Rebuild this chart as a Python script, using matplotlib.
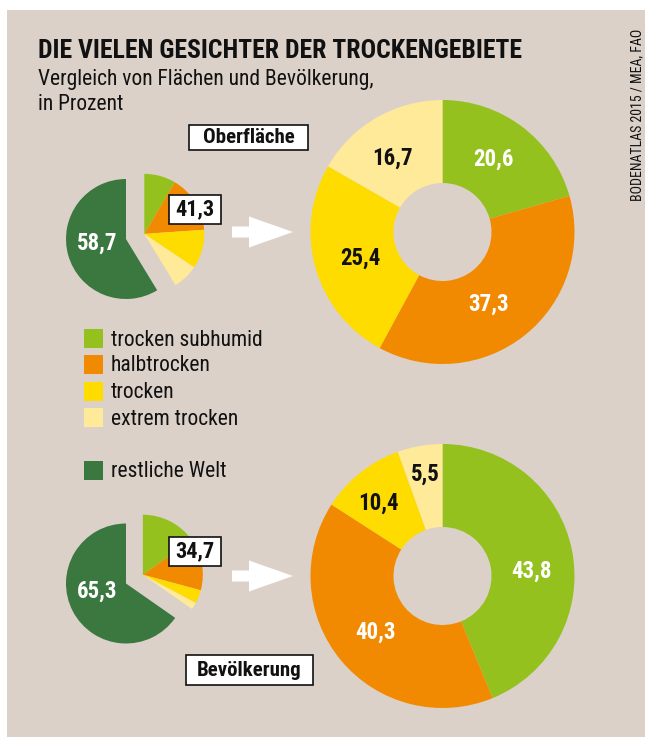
import matplotlib
matplotlib.use("Agg")
import matplotlib.pyplot as plt
import matplotlib.patches as mpatches
from matplotlib import font_manager as fm
import numpy as np

# ---- data -----------------------------------------------------------------
categories = ["trocken subhumid", "halbtrocken", "trocken", "extrem trocken"]
rest_label = "restliche Welt"

area_shares = [20.6, 37.3, 25.4, 16.7]   # drylands by aridity class, % of dryland area
area_dry_total = 41.3                     # drylands, % of global land surface
area_rest = 58.7

pop_shares = [43.8, 40.3, 10.4, 5.5]      # dryland population by aridity class, %
pop_dry_total = 34.7                      # dryland population, % of world population
pop_rest = 65.3

block_titles = ["Oberfläche", "Bevölkerung"]

title = "DIE VIELEN GESICHTER DER TROCKENGEBIETE"
subtitle_lines = ["Vergleich von Flächen und Bevölkerung,", "in Prozent"]
source = "BODENATLAS 2015 / MEA, FAO"

# ---- style ----------------------------------------------------------------
colors = ["#95c11f", "#f18a00", "#ffdc00", "#feea98"]
rest_color = "#3a7840"
value_colors = ["white", "white", "#111111", "#111111"]
bg = "#dcd1c9"
ink = "#111111"


def pick(*names):
    avail = {f.name for f in fm.fontManager.ttflist}
    for n in names:
        if n in avail:
            return n
    return "DejaVu Sans"


COND = pick("Roboto Condensed", "Barlow Semi Condensed", "Fira Sans Condensed",
            "PT Sans Narrow", "Liberation Sans Narrow")
FAM = [COND, "DejaVu Sans"]


def fmt(v):
    return f"{v:.1f}".replace(".", ",")


W, H = 645, 737
fig = plt.figure(figsize=(W / 100, H / 100), dpi=100, facecolor="white")
ax = fig.add_axes([0, 0, 1, 1])


def Y(y):
    """pixel row (from top) -> axes y"""
    return H - y


# background panel
ax.add_patch(mpatches.Rectangle((7, 0), W - 7, Y(10), facecolor=bg,
                                edgecolor="none", zorder=0))

# headings
ax.text(38, Y(58), title, fontsize=18.5, fontweight="bold", family=FAM,
        color=ink, ha="left", va="baseline")
for line, base in zip(subtitle_lines, [85, 110]):
    ax.text(38, Y(base), line, fontsize=15.5, family=FAM, color=ink,
            ha="left", va="baseline")
ax.text(637, Y(115), source, fontsize=10, family=FAM, color=ink,
        rotation=90, ha="center", va="center")

# layout of the two blocks (pixel positions from top-left)
blocks = [
    dict(shares=area_shares, dry=area_dry_total, rest=area_rest,
         small=(126, 239), big=(442.5, 232), arrow_y=232,
         box=(195, 209.5), rest_xy=(97, 243), head=(248.5, 137.5, 119, 25),
         offsets=[(50.5, -73), (46.5, 72), (-82.5, 26), (-49.5, -74)]),
    dict(shares=pop_shares, dry=pop_dry_total, rest=pop_rest,
         small=(126, 583.5), big=(442.5, 576), arrow_y=576,
         box=(195, 551.5), rest_xy=(97, 591), head=(249.5, 670, 127, 30),
         offsets=[(89.5, -5), (-67.5, 56), (-64.5, -73), (-17.5, -102)]),
]

R_SMALL, EXPLODE = 60, 19
R_BIG, RING = 132, 83
wp = dict(linewidth=0, antialiased=True)

for blk, head_text in zip(blocks, block_titles):
    cx, cy = blk["small"]
    dry, shares = blk["dry"], blk["shares"]

    # small pie: drylands pulled out towards their mid angle
    mid = np.deg2rad(360 * dry / 100 / 2)
    dx, dy = EXPLODE * np.sin(mid), EXPLODE * np.cos(mid)
    parts = [dry / 100 * s / sum(shares) for s in shares]
    ax.pie(parts, colors=colors, startangle=90, counterclock=False,
           radius=R_SMALL, center=(cx + dx, Y(cy) + dy), normalize=False,
           wedgeprops=wp)
    ax.pie([blk["rest"] / 100], colors=[rest_color],
           startangle=90 - 360 * dry / 100, counterclock=False,
           radius=R_SMALL, center=(cx, Y(cy)), normalize=False, wedgeprops=wp)
    rx, ry = blk["rest_xy"]
    ax.text(rx, Y(ry), fmt(blk["rest"]), fontsize=16.5, fontweight="bold",
            family=FAM, color="white", ha="center", va="center")

    # boxed dryland total
    bx, by = blk["box"]
    ax.add_patch(mpatches.Rectangle((bx - 26, Y(by) - 14.5), 52, 29,
                                    facecolor="white", edgecolor=ink,
                                    linewidth=1.2, zorder=4))
    ax.text(bx, Y(by), fmt(dry), fontsize=16, fontweight="bold", family=FAM,
            color=ink, ha="center", va="center", zorder=5)

    # arrow
    ay = blk["arrow_y"]
    ax.add_patch(mpatches.FancyArrow(232, Y(ay), 61, 0, width=11,
                                     head_width=31, head_length=44,
                                     length_includes_head=True,
                                     facecolor="white", edgecolor="none"))

    # donut with the breakdown
    gx, gy = blk["big"]
    ax.pie(shares, colors=colors, startangle=90, counterclock=False,
           radius=R_BIG, center=(gx, Y(gy)),
           wedgeprops=dict(width=RING, linewidth=0))
    for v, (ox, oy), tc in zip(shares, blk["offsets"], value_colors):
        ax.text(gx + ox, Y(gy + oy), fmt(v), fontsize=16.5, fontweight="bold",
                family=FAM, color=tc, ha="center", va="center")

    # block heading box
    hx, hy, hw, hh = blk["head"]
    ax.add_patch(mpatches.Rectangle((hx - hw / 2, Y(hy) - hh / 2), hw, hh,
                                    facecolor="white", edgecolor=ink,
                                    linewidth=1.2, zorder=4))
    ax.text(hx, Y(hy), head_text, fontsize=15, fontweight="bold",
            family=FAM, color=ink, ha="center", va="center", zorder=5)

# legend
legend_rows = [338.5, 364, 391, 417.5, 470]
for lab, col, ly in zip(categories + [rest_label], colors + [rest_color],
                        legend_rows):
    ax.add_patch(mpatches.Rectangle((84, Y(ly) - 9.5), 19, 19,
                                    facecolor=col, edgecolor="none"))
    ax.text(111, Y(ly + 7), lab, fontsize=15.5, family=FAM, color=ink,
            ha="left", va="baseline")

ax.set_xlim(0, W)
ax.set_ylim(0, H)
ax.set_aspect("auto")
ax.set_axis_off()
fig.savefig("out.png", dpi=100, facecolor="white")
